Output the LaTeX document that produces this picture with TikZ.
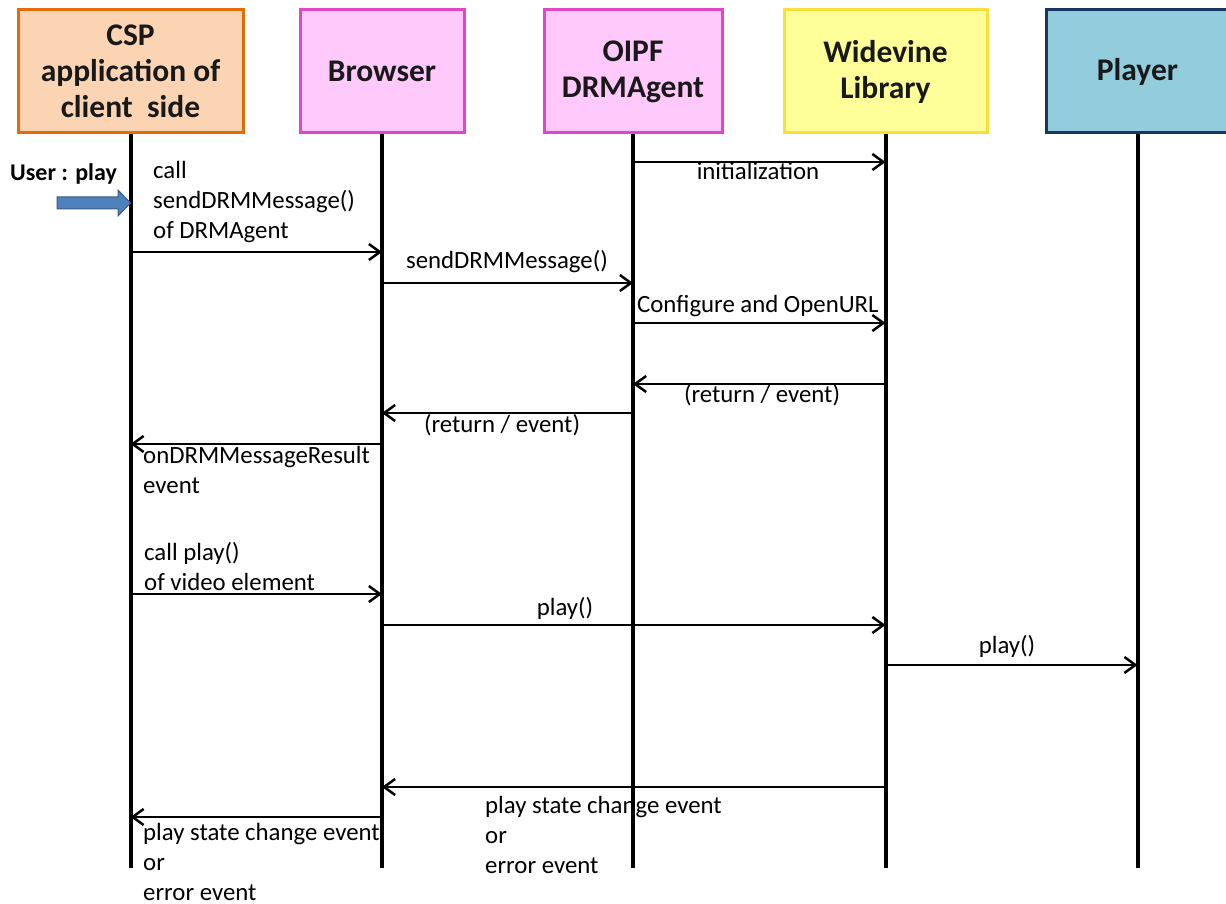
\documentclass[tikz,border=0pt]{standalone}
\usepackage{fontspec}
\setmainfont{Carlito}
\usetikzlibrary{arrows.meta}
\definecolor{cspfill}{HTML}{FBD4B4}
\definecolor{cspdraw}{HTML}{E36C09}
\definecolor{pinkfill}{HTML}{FFC9FB}
\definecolor{pinkdraw}{HTML}{E046C8}
\definecolor{yelfill}{HTML}{FFFF99}
\definecolor{yeldraw}{HTML}{F9DF3A}
\definecolor{plfill}{HTML}{93CDDD}
\definecolor{pldraw}{HTML}{17375E}
\definecolor{ublue}{HTML}{4F81BD}
\definecolor{ubluedraw}{HTML}{385D8A}
\begin{document}
\begin{tikzpicture}[x=1pt,y=-1pt,
  headbox/.style={draw, line width=3pt, minimum height=123pt, align=center,
    font=\fontsize{31.5}{36}\selectfont\bfseries, text=black!90, inner sep=0pt},
  life/.style={line width=4pt},
  msg/.style={line width=2.5pt, -{Straight Barb[length=11pt,width=16pt]}},
  lbl/.style={font=\fontsize{24.8}{30}\selectfont, inner sep=0pt, align=left},
  clbl/.style={font=\fontsize{24.8}{30}\selectfont, inner sep=0pt, anchor=base},
]
\useasboundingbox (0,0) rectangle (1226,904);
\fill[white] (0,0) rectangle (1226,904);

% header boxes
\node[headbox, fill=cspfill, draw=cspdraw, minimum width=225pt] (csp) at (130.5,71.5) {CSP\\application of\\client\ \ side};
\node[headbox, fill=pinkfill, draw=pinkdraw, minimum width=164pt] (br) at (382,71.5) {Browser};
\node[headbox, fill=pinkfill, draw=pinkdraw, minimum width=178pt] (oipf) at (633,71.5) {OIPF\\DRMAgent};
\node[headbox, fill=yelfill, draw=yeldraw, minimum width=203pt] (wv) at (885.5,71.5) {Widevine\\Library};
\node[headbox, fill=plfill, draw=pldraw, minimum width=183pt] (pl) at (1137.5,71.5) {Player};

% message rows
\coordinate (lifeEnd) at (0,868);
\coordinate (m1) at (0,162);
\coordinate (m2) at (0,252);
\coordinate (m3) at (0,283);
\coordinate (m4) at (0,323);
\coordinate (m5) at (0,384);
\coordinate (m6) at (0,413);
\coordinate (m7) at (0,444);
\coordinate (m8) at (0,594);
\coordinate (m9) at (0,625);
\coordinate (m10) at (0,665);
\coordinate (m11) at (0,787);
\coordinate (m12) at (0,817);

% labels (multi-line nodes: base = baseline of last line)
\node[font=\fontsize{24}{28}\selectfont\bfseries, inner sep=0pt, anchor=base west] (user) at (10,181) {User : play};
\node[lbl, anchor=base west] (l2) at (153,239) {call\\sendDRMMessage()\\of DRMAgent};
\node[clbl] (l1) at (758,180) {initialization};
\node[clbl] (l3) at (507,268) {sendDRMMessage()};
\node[lbl, anchor=base west] (l4) at (637,312) {Configure and OpenURL};
\node[clbl] (l5) at (762,402) {(return / event)};
\node[clbl] (l6) at (502,432) {(return / event)};
\node[lbl, anchor=base west] (l7) at (143,493) {onDRMMessageResult\\event};
\node[lbl, anchor=base west] (l8) at (144,590) {call play()\\of video element};
\node[clbl] (l9) at (565,615) {play()};
\node[clbl] (l10) at (1007,653) {play()};
\node[lbl, anchor=base west] (l11) at (485,873) {play state change event\\or\\error event};
\node[lbl, anchor=base west] (l12) at (143,900) {play state change event\\or\\error event};

% lifelines
\foreach \n in {csp,br,oipf,wv,pl}
  \draw[life] (\n.south) -- (\n.south |- lifeEnd);

% user block arrow
\draw[fill=ublue, draw=ubluedraw, line width=1pt]
  (57,197) -- (118,197) -- (118,190) -- (csp.south |- 0,203) -- (118,216) -- (118,209) -- (57,209) -- cycle;

% messages
\draw[msg] (oipf.south |- m1) -- (wv.south |- m1);
\draw[msg] (csp.south |- m2) -- (br.south |- m2);
\draw[msg] (br.south |- m3) -- (oipf.south |- m3);
\draw[msg] (oipf.south |- m4) -- (wv.south |- m4);
\draw[msg] (wv.south |- m5) -- (oipf.south |- m5);
\draw[msg] (oipf.south |- m6) -- (br.south |- m6);
\draw[msg] (br.south |- m7) -- (csp.south |- m7);
\draw[msg] (csp.south |- m8) -- (br.south |- m8);
\draw[msg] (br.south |- m9) -- (wv.south |- m9);
\draw[msg] (wv.south |- m10) -- (pl.south |- m10);
\draw[msg] (wv.south |- m11) -- (br.south |- m11);
\draw[msg] (br.south |- m12) -- (csp.south |- m12);
\end{tikzpicture}
\end{document}
